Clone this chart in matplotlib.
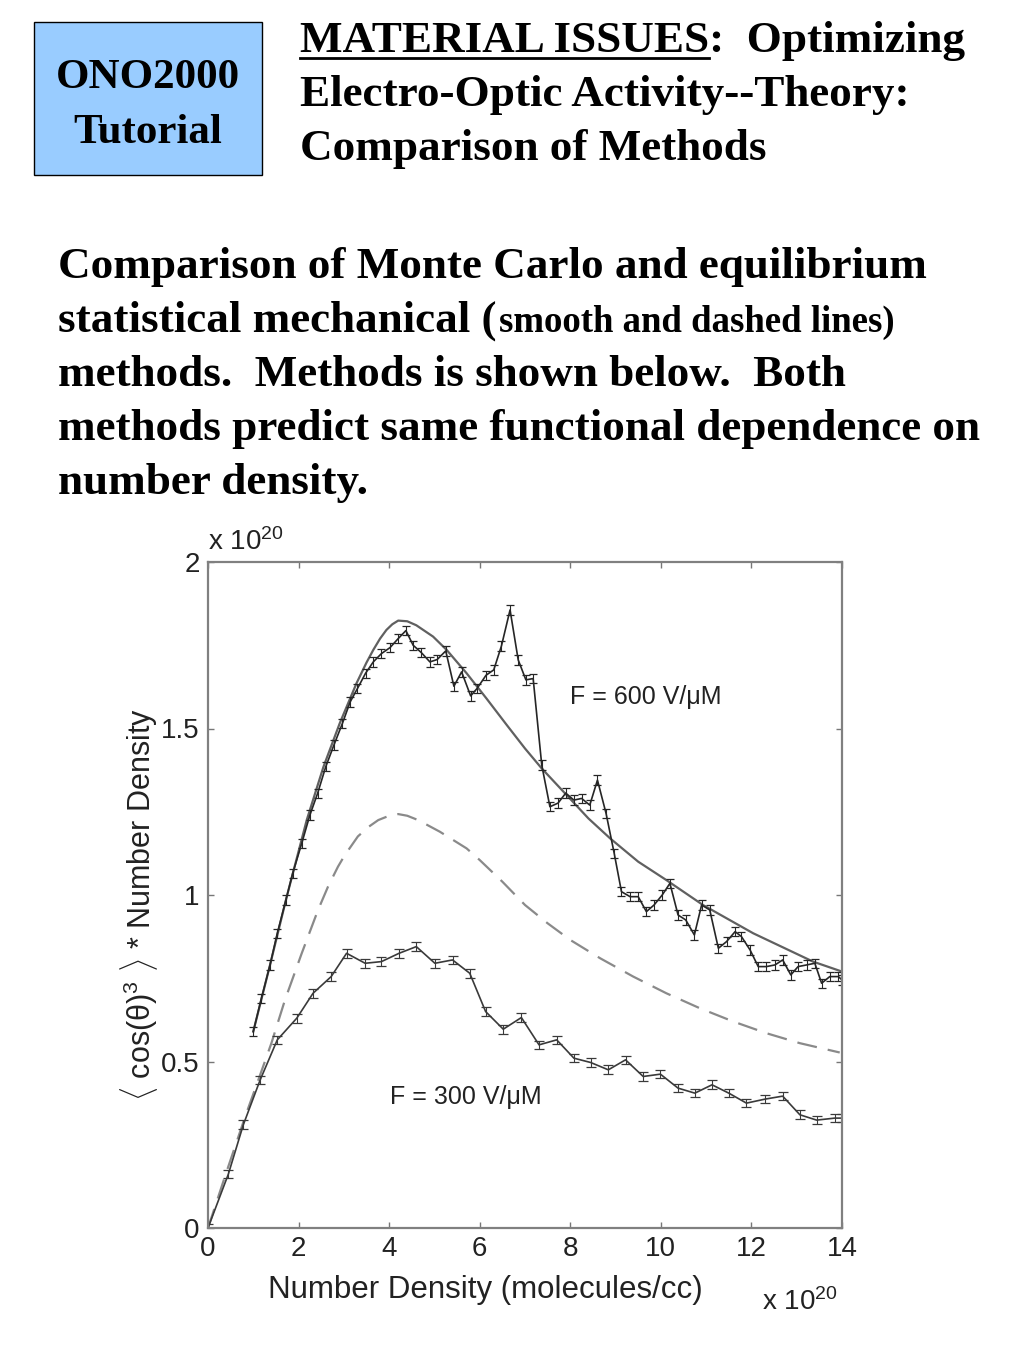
import matplotlib
matplotlib.use('Agg')
import matplotlib.pyplot as plt
from matplotlib.patches import Rectangle
from matplotlib.lines import Line2D

# Monte Carlo results, F = 600 V/uM (units of 1e20)
mc600_x = [1.00, 1.18, 1.37, 1.53, 1.72, 1.87, 2.07, 2.25, 2.42, 2.60,
           2.78, 2.97, 3.14, 3.30, 3.48, 3.65, 3.83, 4.02, 4.20, 4.37,
           4.53, 4.71, 4.90, 5.06, 5.25, 5.43, 5.60, 5.80, 5.94, 6.14,
           6.31, 6.48, 6.67, 6.85, 7.02, 7.18, 7.37, 7.55, 7.73, 7.90,
           8.08, 8.25, 8.43, 8.60, 8.79, 8.97, 9.13, 9.32, 9.50, 9.68,
           9.85, 10.03, 10.20, 10.38, 10.55, 10.74, 10.90, 11.08, 11.27, 11.45,
           11.64, 11.78, 11.97, 12.15, 12.33, 12.52, 12.69, 12.87, 13.03, 13.22,
           13.40, 13.55, 13.73, 13.92, 14.00]
mc600_y = [0.59, 0.69, 0.79, 0.885, 0.985, 1.065, 1.155, 1.24, 1.305, 1.385,
           1.45, 1.516, 1.58, 1.62, 1.666, 1.70, 1.725, 1.743, 1.77, 1.794,
           1.75, 1.728, 1.70, 1.707, 1.733, 1.627, 1.67, 1.598, 1.62, 1.66,
           1.676, 1.748, 1.856, 1.706, 1.646, 1.65, 1.39, 1.265, 1.276, 1.306,
           1.285, 1.29, 1.27, 1.345, 1.245, 1.125, 1.01, 0.995, 0.995, 0.95,
           0.97, 1.0, 1.035, 0.94, 0.925, 0.88, 0.97, 0.955, 0.84, 0.86,
           0.89, 0.875, 0.835, 0.785, 0.785, 0.79, 0.805, 0.76, 0.785, 0.79,
           0.795, 0.735, 0.755, 0.755, 0.745]

# Monte Carlo results, F = 300 V/uM
mc300_x = [0.0, 0.45, 0.78, 1.15, 1.53, 1.96, 2.32, 2.72, 3.06, 3.47,
           3.83, 4.22, 4.60, 5.01, 5.40, 5.78, 6.13, 6.52, 6.92, 7.31,
           7.70, 8.08, 8.45, 8.84, 9.22, 9.61, 9.99, 10.38, 10.75, 11.13,
           11.50, 11.89, 12.30, 12.69, 13.07, 13.44, 13.84, 14.00]
mc300_y = [0.0, 0.162, 0.31, 0.444, 0.565, 0.63, 0.705, 0.755, 0.825, 0.795,
           0.80, 0.825, 0.845, 0.795, 0.805, 0.765, 0.65, 0.597, 0.632, 0.55,
           0.565, 0.51, 0.497, 0.475, 0.505, 0.455, 0.462, 0.42, 0.405, 0.43,
           0.405, 0.375, 0.387, 0.396, 0.34, 0.324, 0.33, 0.33]

# equilibrium statistical mechanics (smooth = 600, dashed = 300)
th600_x = [1.0, 1.37, 1.73, 2.18, 2.55, 2.91, 3.28, 3.5, 3.65, 3.8,
           3.94, 4.07, 4.2, 4.4, 4.6, 4.97, 5.27, 5.71, 6.15, 6.6,
           7.0, 7.37, 7.92, 8.4, 8.88, 9.5, 10.12, 10.93, 12.04, 13.36,
           14.0]
th600_y = [0.59, 0.79, 0.99, 1.225, 1.385, 1.516, 1.636, 1.698, 1.736, 1.77,
           1.796, 1.813, 1.824, 1.822, 1.81, 1.776, 1.736, 1.666, 1.59, 1.51,
           1.44, 1.38, 1.30, 1.23, 1.17, 1.10, 1.045, 0.97, 0.885, 0.80,
           0.77]
th300_x = [0.0, 0.40, 0.82, 1.11, 1.40, 1.70, 2.07, 2.43, 2.65, 2.87,
           3.0, 3.1, 3.31, 3.55, 3.76, 4.0, 4.20, 4.4, 4.64, 5.12,
           5.71, 6.0, 6.5, 7.0, 7.5, 8.0, 8.66, 9.39, 10.12, 10.86,
           11.6, 12.33, 13.07, 13.95]
th300_y = [0.0, 0.165, 0.334, 0.444, 0.555, 0.685, 0.825, 0.955, 1.025, 1.085,
           1.115, 1.135, 1.176, 1.205, 1.225, 1.238, 1.243, 1.238, 1.225, 1.19,
           1.14, 1.105, 1.04, 0.97, 0.915, 0.865, 0.81, 0.755, 0.705, 0.66,
           0.62, 0.585, 0.555, 0.527]

xticks = [0, 2, 4, 6, 8, 10, 12, 14]
yticks = [0, 0.5, 1, 1.5, 2]
ytick_labels = ['0', '0.5', '1', '1.5', '2']

W, H = 1024, 1365
fig = plt.figure(figsize=(W / 100, H / 100), dpi=100)
fig.patch.set_facecolor('white')

plt.rcParams['mathtext.fontset'] = 'custom'
plt.rcParams['mathtext.rm'] = 'Liberation Sans'
plt.rcParams['mathtext.it'] = 'Liberation Sans'

serif = 'Liberation Serif'
sans = ['Liberation Sans', 'DejaVu Sans']

def fx(px):
    return px / W

def fy(py):
    return 1 - py / H

# header box
fig.patches.append(Rectangle((fx(34), fy(175)), fx(262) - fx(34), fy(22) - fy(175),
                             transform=fig.transFigure, facecolor='#99ccff',
                             edgecolor='black', linewidth=1.0))
fig.text(fx(148), fy(88), 'ONO2000', family=serif, weight='bold', fontsize=31,
         ha='center', va='baseline')
fig.text(fx(148), fy(143), 'Tutorial', family=serif, weight='bold', fontsize=31,
         ha='center', va='baseline')

# title
fig.text(fx(300), fy(52), 'MATERIAL ISSUES:  Optimizing', family=serif, weight='bold',
         fontsize=32.5, va='baseline')
fig.lines.append(Line2D([fx(300), fx(709)], [fy(58), fy(58)], transform=fig.transFigure,
                        color='black', linewidth=2))
fig.text(fx(300), fy(106), 'Electro-Optic Activity--Theory:', family=serif, weight='bold',
         fontsize=32.5, va='baseline')
fig.text(fx(300), fy(160), 'Comparison of Methods', family=serif, weight='bold',
         fontsize=32.5, va='baseline')

# body text
fig.text(fx(58), fy(278), 'Comparison of Monte Carlo and equilibrium', family=serif,
         weight='bold', fontsize=32.5, va='baseline')
fig.text(fx(58), fy(332), 'statistical mechanical (', family=serif,
         weight='bold', fontsize=32.5, va='baseline')
fig.text(fx(499), fy(332), 'smooth and dashed lines)', family=serif,
         weight='bold', fontsize=26.5, va='baseline')
fig.text(fx(58), fy(386), 'methods.  Methods is shown below.  Both', family=serif,
         weight='bold', fontsize=32.5, va='baseline')
fig.text(fx(58), fy(440), 'methods predict same functional dependence on', family=serif,
         weight='bold', fontsize=32.5, va='baseline')
fig.text(fx(58), fy(494), 'number density.', family=serif,
         weight='bold', fontsize=32.5, va='baseline')

# plot
ax = fig.add_axes([fx(208), fy(1228), fx(842) - fx(208), fy(562) - fy(1228)])

ax.plot(th600_x, th600_y, color='#606060', linewidth=1.6)
ax.plot(th300_x, th300_y, color='#8a8a8a', linewidth=1.6, dashes=(9, 5))
ax.errorbar(mc600_x, mc600_y, yerr=0.014, color='#262626', linewidth=1.2,
            elinewidth=0.8, capsize=3, capthick=0.9)
ax.errorbar(mc300_x, mc300_y, yerr=0.013, color='#3a3a3a', linewidth=1.2,
            elinewidth=0.8, capsize=3.5, capthick=0.9)

ax.text(7.99, 1.595, 'F = 600 V/\u03bcM', family=sans, fontsize=18, color='#222222',
        va='center')
ax.text(4.02, 0.393, 'F = 300 V/\u03bcM', family=sans, fontsize=18, color='#222222',
        va='center')

ax.set_xlim(0, 14)
ax.set_ylim(0, 2)
ax.set_xticks(xticks)
ax.set_xticklabels([str(t) for t in xticks])
ax.set_yticks(yticks)
ax.set_yticklabels(ytick_labels)
ax.tick_params(direction='in', length=4.5, width=1, color='#777777', top=True,
               right=True, labelsize=20, labelcolor='#222222', pad=6)
for lab in ax.get_xticklabels() + ax.get_yticklabels():
    lab.set_family(sans)
for sp in ax.spines.values():
    sp.set_color('#808080')
    sp.set_linewidth(1.6)

fig.text(fx(139), fy(905), r'$\langle$ cos($\theta$)$^3$ $\rangle$ * Number Density',
         family=sans, fontsize=22, color='#222222', rotation=90, ha='center', va='center')
fig.text(fx(485), fy(1290), 'Number Density (molecules/cc)', family=sans, fontsize=22.5,
         color='#222222', ha='center', va='center')
fig.text(fx(208), fy(550), r'x 10$^{20}$', family=sans, fontsize=20, color='#222222',
         va='baseline')
fig.text(fx(762), fy(1310), r'x 10$^{20}$', family=sans, fontsize=20, color='#222222',
         va='baseline')

fig.savefig('out.png', dpi=100)
